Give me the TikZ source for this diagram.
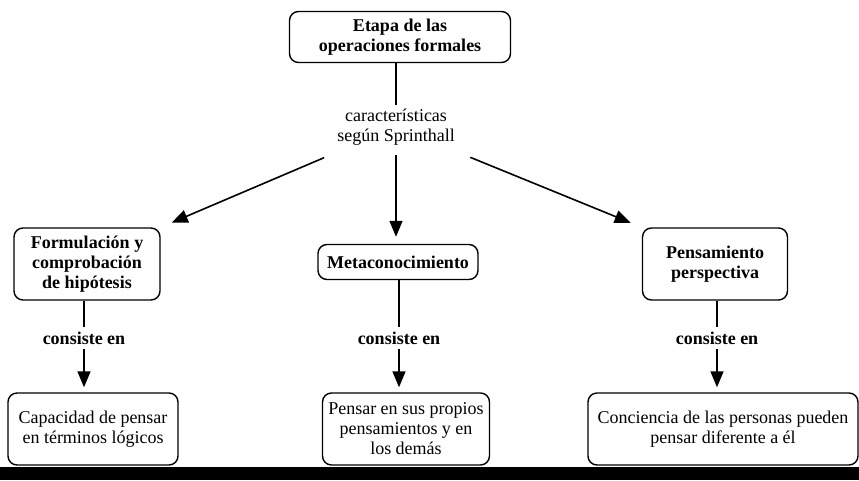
\documentclass[tikz,border=0pt]{standalone}
\usepackage{fontspec}
\setmainfont{Liberation Serif}
\usetikzlibrary{positioning,arrows.meta}
\tikzset{
  concept/.style={draw,line width=1.4pt,rounded corners=9pt,align=center,
            font=\fontsize{18}{20}\selectfont\bfseries,inner sep=2pt},
  detail/.style={concept,font=\fontsize{18}{20}\selectfont},
  linkword/.style={align=center,inner sep=4pt,font=\fontsize{18}{20}\selectfont},
  linkbold/.style={linkword,font=\fontsize{18}{20}\selectfont\bfseries},
  link/.style={line width=1.6pt},
  linkarrow/.style={link,-{Triangle[length=16pt,width=13pt]}},
}

\begin{document}
\begin{tikzpicture}[x=1pt,y=-1pt]
  \useasboundingbox (0,0) rectangle (859,480);
  \node[concept,minimum width=221pt,minimum height=51pt] (etapa) at (400,37)
    {Etapa de las\\operaciones formales};
  \node[linkword] (carac) at (396,127) {características\\según Sprinthall};
  % three features
  \node[concept,minimum width=146pt,minimum height=72pt] (formul) at (87,264)
    {Formulación y\\comprobación\\de hipótesis};
  \node[concept,minimum width=160pt,minimum height=35pt] (meta) at (398,262)
    {Metaconocimiento};
  \node[concept,minimum width=145pt,minimum height=72pt] (persp) at (715,264)
    {Pensamiento\\perspectiva};
  % linking words
  \node[linkbold] (cons1) at (84,338) {consiste en};
  \node[linkbold] (cons2) at (399,338) {consiste en};
  \node[linkbold] (cons3) at (717,338) {consiste en};
  % details
  \node[detail,minimum width=170pt,minimum height=72pt] (capac) at (93,429)
    {Capacidad de pensar\\en términos lógicos};
  \node[detail,minimum width=167pt,minimum height=72pt] (propios) at (406,429)
    {Pensar en sus propios\\pensamientos y en\\los demás};
  \node[detail,minimum width=270pt,minimum height=72pt] (concien) at (723,429)
    {Conciencia de las personas pueden\\pensar diferente a él};
  % connectors (kept vertical where the reference is)
  \draw[link] (carac |- etapa.south) -- (carac);
  \draw[linkarrow,shorten <=21pt,shorten >=12pt] (carac) -- (formul.north east);
  \draw[linkarrow,shorten <=6pt,shorten >=7pt] (carac) -- (carac |- meta.north);
  \draw[linkarrow,shorten <=21pt,shorten >=12pt] (carac) -- (persp.north west);
  \draw[link] (cons1 |- formul.south) -- (cons1);
  \draw[link] (cons2 |- meta.south) -- (cons2);
  \draw[link] (cons3 |- persp.south) -- (cons3);
  \draw[linkarrow,shorten >=5pt] (cons1) -- (cons1 |- capac.north);
  \draw[linkarrow,shorten >=5pt] (cons2) -- (cons2 |- propios.north);
  \draw[linkarrow,shorten >=5pt] (cons3) -- (cons3 |- concien.north);
  % bottom bar
  \fill (0,467) rectangle (859,480);
\end{tikzpicture}
\end{document}
